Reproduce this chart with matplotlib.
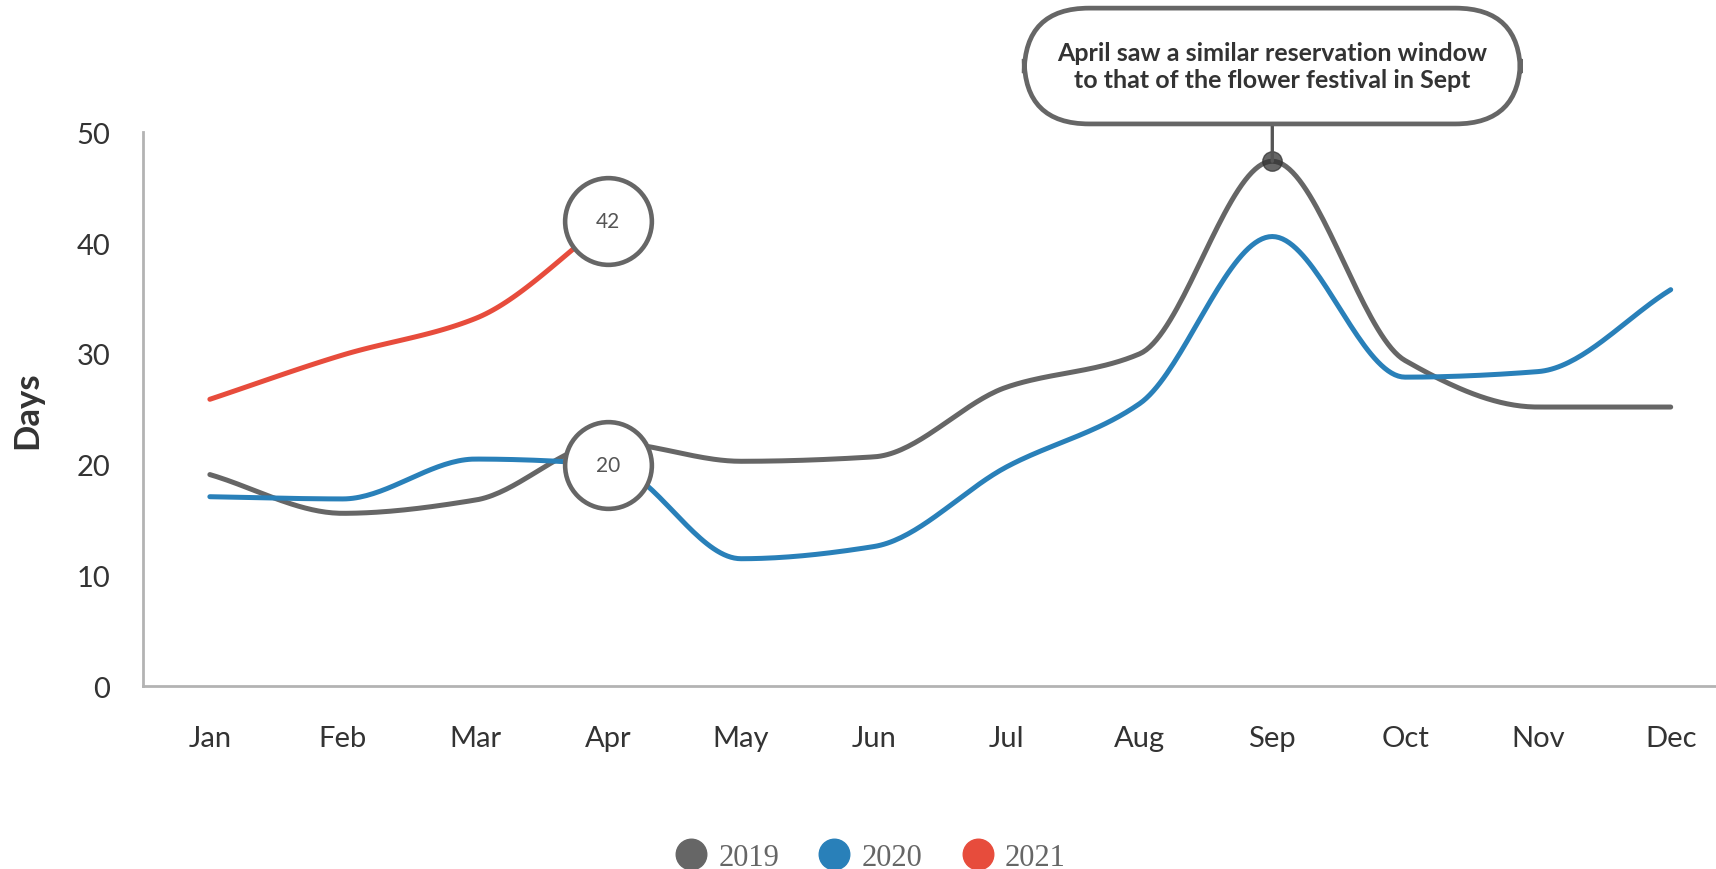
import matplotlib.pyplot as plt
import numpy as np

months = ['Jan', 'Feb', 'Mar', 'Apr', 'May', 'Jun',
          'Jul', 'Aug', 'Sep', 'Oct', 'Nov', 'Dec']
days_2019 = [19.1, 15.6, 16.8, 22.0, 20.3, 20.7, 27.0, 30.0, 47.4, 29.4, 25.2, 25.2]
days_2020 = [17.1, 16.9, 20.5, 20.0, 11.5, 12.6, 19.8, 25.5, 40.6, 27.9, 28.4, 35.8]
days_2021 = [25.9, 29.9, 33.2, 42.0]
years = ['2019', '2020', '2021']
colors = ['#666666', '#2980b9', '#e74c3c']

callout_text = ('April saw a similar reservation window\n'
                'to that of the flower festival in Sept')

plt.rcParams['font.family'] = ['Lato', 'DejaVu Sans']


def smooth(y, n=40):
    """smoothed line through the points (monotone cubic, drawn as bezier)"""
    y = np.asarray(y, dtype=float)
    d = np.diff(y)
    m = np.zeros_like(y)
    m[0], m[-1] = d[0], d[-1]
    for i in range(1, len(y) - 1):
        if d[i - 1] * d[i] > 0:
            m[i] = 2 * d[i - 1] * d[i] / (d[i - 1] + d[i])
    t = np.linspace(0, 1, n)
    xs, ys = [], []
    for i in range(len(y) - 1):
        c1 = y[i] + m[i] / 3
        c2 = y[i + 1] - m[i + 1] / 3
        seg = ((1 - t) ** 3 * y[i] + 3 * (1 - t) ** 2 * t * c1
               + 3 * (1 - t) * t ** 2 * c2 + t ** 3 * y[i + 1])
        xs.append(i + t)
        ys.append(seg)
    return np.concatenate(xs), np.concatenate(ys)


fig = plt.figure(figsize=(17.16, 8.70), dpi=100)
ax = fig.add_axes([0.0836, 0.2103, 0.9287, 0.6363])

for data, color, year in zip([days_2019, days_2020, days_2021], colors, years):
    xs, ys = smooth(data)
    ax.plot(xs, ys, color=color, lw=3.6, solid_capstyle='round', zorder=3)
    ax.plot([], [], 'o', color=color, markersize=22, label=year)

# circled labels at April
for val in [days_2021[3], days_2020[3]]:
    ax.scatter([3], [val], s=3900, facecolor='white', edgecolor='#666666',
               linewidth=3.3, zorder=5, clip_on=False)
    ax.text(3, val, f'{val:.0f}', ha='center', va='center', fontsize=15,
            color='#555555', zorder=6)

# callout at the September peak
ax.plot([8], [days_2019[8]], 'o', color='#333333', alpha=0.75,
        markersize=14, zorder=6)
ax.annotate(callout_text, xy=(8, days_2019[8]), xytext=(8, 56.0),
            ha='center', va='center', fontsize=18, fontweight='bold',
            color='#333333', linespacing=1.2, annotation_clip=False,
            bbox=dict(boxstyle='round,pad=1.32,rounding_size=2.6',
                      fc='white', ec='#666666', lw=3.4),
            arrowprops=dict(arrowstyle='-', color='#555555', lw=2.4,
                            shrinkA=0, shrinkB=0),
            zorder=7)

ax.set_xlim(-0.5, 11.5)
ax.set_ylim(0, 50)
ax.set_xticks(range(len(months)))
ax.set_xticklabels(months)
ax.set_yticks(range(0, 51, 10))
ax.tick_params(axis='both', length=0, labelsize=21, colors='#333333')
ax.tick_params(axis='x', pad=28)
ax.tick_params(axis='y', pad=24)
for side in ['top', 'right']:
    ax.spines[side].set_visible(False)
for side in ['left', 'bottom']:
    ax.spines[side].set_color('#b3b3b3')
    ax.spines[side].set_linewidth(2)
ax.set_ylabel('Days', fontsize=25, fontweight='bold', color='#333333')
ax.yaxis.set_label_coords(-0.063, 0.5)

fig.legend(loc='center', bbox_to_anchor=(0.503, 0.013), ncol=3,
           frameon=False, handletextpad=-0.1, columnspacing=0.8,
           prop={'family': 'Liberation Serif', 'size': 22},
           labelcolor='#666666')

fig.savefig('out.png', dpi=100)
